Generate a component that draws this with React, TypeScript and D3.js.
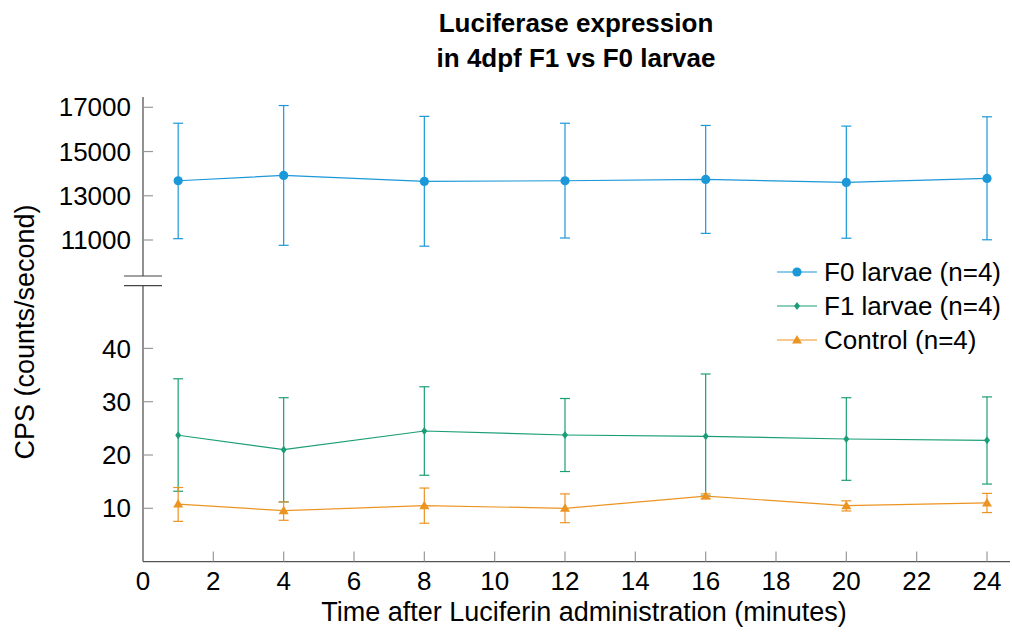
import React from "react";
import * as d3 from "d3";

const times = [1, 4, 8, 12, 16, 20, 24];
const f0Mean = [13680, 13920, 13650, 13680, 13740, 13605, 13785];
const f0Hi = [16280, 17080, 16590, 16280, 16180, 16150, 16570];
const f0Lo = [11060, 10760, 10720, 11090, 11300, 11080, 11010];
const f1Mean = [23.7, 21.0, 24.5, 23.75, 23.5, 23.0, 22.75];
const f1Hi = [34.3, 30.75, 32.8, 30.6, 35.2, 30.75, 30.9];
const f1Lo = [13.2, 11.2, 16.2, 16.9, 12.3, 15.25, 14.55];
const ctMean = [10.8, 9.55, 10.5, 10.0, 12.3, 10.5, 11.0];
const ctHi = [13.9, 11.2, 13.8, 12.7, 12.7, 11.4, 12.8];
const ctLo = [7.55, 7.75, 7.2, 7.3, 11.8, 9.5, 9.2];

const xTicks = [0, 2, 4, 6, 8, 10, 12, 14, 16, 18, 20, 22, 24];
const topTicks = [11000, 13000, 15000, 17000];
const botTicks = [10, 20, 30, 40];
const legendLabels = ["F0 larvae (n=4)", "F1 larvae (n=4)", "Control (n=4)"];

const BLUE = "#1b98d8";
const GREEN = "#1b9e77";
const ORANGE = "#ec9422";
const FONT = "'Liberation Sans', Arial, Helvetica, sans-serif";

export default function App() {
  const W = 1012, H = 634;
  const x = d3.scaleLinear().domain([0, 24]).range([143, 987]);
  const yTop = d3.scaleLinear().domain([11000, 17000]).range([240, 107.3]);
  const yBot = d3.scaleLinear().domain([0, 10]).range([561.6, 508.3]);

  const axisLeft = 143;
  const topAxisTop = 97;
  const breakY1 = 276;
  const breakY2 = 285.7;
  const bottomY = 561.6;
  const xEnd = 1010;

  type S = { mean: number[]; hi: number[]; lo: number[]; color: string; marker: string; y: any };
  const series: S[] = [
    { mean: f0Mean, hi: f0Hi, lo: f0Lo, color: BLUE, marker: "circle", y: yTop },
    { mean: f1Mean, hi: f1Hi, lo: f1Lo, color: GREEN, marker: "diamond", y: yBot },
    { mean: ctMean, hi: ctHi, lo: ctLo, color: ORANGE, marker: "triangle", y: yBot },
  ];

  const marker = (kind: string, cx: number, cy: number, color: string, key: any) => {
    if (kind === "circle") return <circle key={key} cx={cx} cy={cy} r={4.6} fill={color} />;
    if (kind === "diamond") {
      const s = 4;
      return <path key={key} d={`M${cx},${cy - s}L${cx + s * 0.75},${cy}L${cx},${cy + s}L${cx - s * 0.75},${cy}Z`} fill={color} />;
    }
    const s = 5;
    return <path key={key} d={`M${cx},${cy - s}L${cx + s},${cy + s * 0.7}L${cx - s},${cy + s * 0.7}Z`} fill={color} />;
  };

  const line = (ys: number[], y: any) =>
    d3.line<number>().x((_, i) => x(times[i])).y((v) => y(v))(ys) || "";

  return (
    <svg width={W} height={H} style={{ position: "absolute", left: 0, top: 0 }} fontFamily={FONT}>
      <rect width={W} height={H} fill="#fff" />
      {/* title */}
      <text x={576} y={31.5} textAnchor="middle" fontSize={26} fontWeight="bold">Luciferase expression</text>
      <text x={576} y={66.5} textAnchor="middle" fontSize={26} fontWeight="bold">in 4dpf F1 vs F0 larvae</text>

      {/* axes */}
      <line x1={axisLeft} x2={axisLeft} y1={topAxisTop} y2={breakY1} stroke="#555" strokeWidth={1.3} />
      <line x1={axisLeft} x2={axisLeft} y1={breakY2} y2={bottomY} stroke="#555" strokeWidth={1.3} />
      <line x1={124} x2={162} y1={breakY1} y2={breakY1} stroke="#444" strokeWidth={1.2} />
      <line x1={124} x2={162} y1={breakY2} y2={breakY2} stroke="#444" strokeWidth={1.2} />
      <line x1={axisLeft} x2={xEnd} y1={bottomY} y2={bottomY} stroke="#555" strokeWidth={1.3} />

      {topTicks.map((t) => (
        <g key={"tt" + t}>
          <line x1={axisLeft} x2={axisLeft + 10} y1={yTop(t)} y2={yTop(t)} stroke="#999" strokeWidth={1.2} />
          <text x={131} y={yTop(t)} dy="0.35em" textAnchor="end" fontSize={26}>{t}</text>
        </g>
      ))}
      {botTicks.map((t) => (
        <g key={"bt" + t}>
          <line x1={axisLeft} x2={axisLeft + 10} y1={yBot(t)} y2={yBot(t)} stroke="#999" strokeWidth={1.2} />
          <text x={131} y={yBot(t)} dy="0.35em" textAnchor="end" fontSize={26}>{t}</text>
        </g>
      ))}
      {xTicks.map((t) => (
        <g key={"xt" + t}>
          {t > 0 && <line x1={x(t)} x2={x(t)} y1={bottomY} y2={bottomY - 10} stroke="#999" strokeWidth={1.2} />}
          <text x={x(t)} y={581} dy="0.35em" textAnchor="middle" fontSize={26}>{t}</text>
        </g>
      ))}

      <text x={584} y={612} dy="0.35em" textAnchor="middle" fontSize={27}>Time after Luciferin administration (minutes)</text>
      <text transform={`translate(25,332) rotate(-90)`} dy="0.35em" textAnchor="middle" fontSize={27}>CPS (counts/second)</text>

      {/* series */}
      {series.map((s, si) => (
        <g key={"s" + si}>
          {times.map((t, i) => (
            <g key={i} stroke={s.color} strokeWidth={1.2}>
              <line x1={x(t)} x2={x(t)} y1={s.y(s.hi[i])} y2={s.y(s.lo[i])} />
              <line x1={x(t) - 5} x2={x(t) + 5} y1={s.y(s.hi[i])} y2={s.y(s.hi[i])} />
              <line x1={x(t) - 5} x2={x(t) + 5} y1={s.y(s.lo[i])} y2={s.y(s.lo[i])} />
            </g>
          ))}
          <path d={line(s.mean, s.y)} fill="none" stroke={s.color} strokeWidth={1.2} />
          {times.map((t, i) => marker(s.marker, x(t), s.y(s.mean[i]), s.color, i))}
        </g>
      ))}

      {/* legend */}
      {legendLabels.map((lab, i) => {
        const ly = 272 + i * 34;
        const s = series[i];
        return (
          <g key={"lg" + i}>
            <line x1={777} x2={817} y1={ly} y2={ly} stroke={s.color} strokeWidth={1.2} />
            {marker(s.marker, 797, ly, s.color, "m")}
            <text x={824} y={ly} dy="0.35em" fontSize={26}>{lab}</text>
          </g>
        );
      })}
    </svg>
  );
}
